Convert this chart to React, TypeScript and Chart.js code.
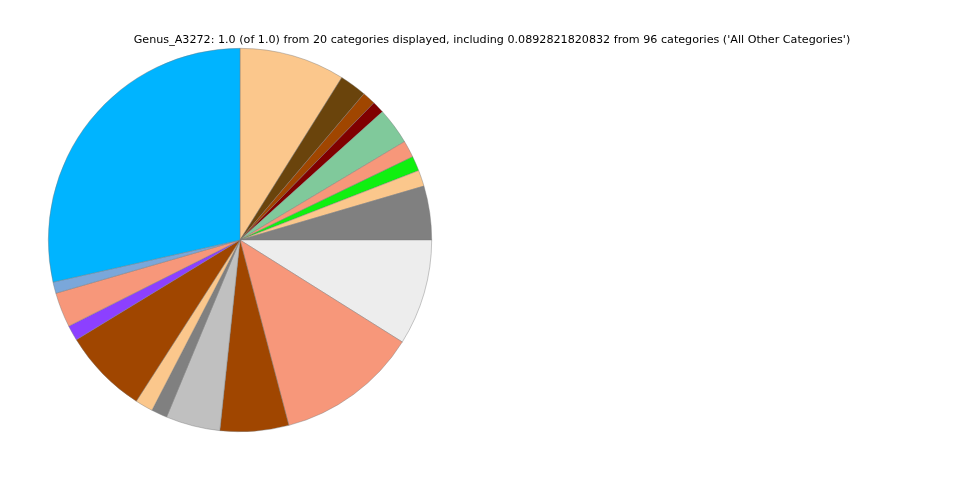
import React, { useEffect, useRef } from "react";
import { Chart, registerables } from "chart.js";

Chart.register(...registerables);

const TITLE =
  "Genus_A3272: 1.0 (of 1.0) from 20 categories displayed, including 0.0892821820832 from 96 categories ('All Other Categories')";

const categories = [
  "Category 1", "Category 2", "Category 3", "Category 4", "Category 5",
  "Category 6", "Category 7", "Category 8", "Category 9", "All Other Categories",
  "Category 11", "Category 12", "Category 13", "Category 14", "Category 15",
  "Category 16", "Category 17", "Category 18", "Category 19", "Category 20",
];

const values = [
  0.0891, 0.0228, 0.0112, 0.0102, 0.0309,
  0.0143, 0.0125, 0.0136, 0.0454, 0.0893,
  0.1197, 0.0578, 0.0458, 0.0134, 0.0150,
  0.0719, 0.0129, 0.0294, 0.0095, 0.2853,
];

const colors = [
  "#FBC78C", "#6A440C", "#A04600", "#800000", "#80C99B",
  "#F7977A", "#10F010", "#FBC78C", "#808080", "#EDEDED",
  "#F7977A", "#A04600", "#C0C0C0", "#808080", "#FBC78C",
  "#A04600", "#8C40FF", "#F7977A", "#7AA7DA", "#00B4FF",
];

const titlePlugin = {
  id: "fixedTitle",
  afterDraw(chart: any) {
    const ctx = chart.ctx;
    ctx.save();
    ctx.fillStyle = "#000";
    ctx.font = "11.15px 'DejaVu Sans'";
    ctx.textAlign = "center";
    ctx.textBaseline = "middle";
    ctx.fillText(TITLE, 492, 40.5);
    ctx.restore();
  },
};

export default function App() {
  const ref = useRef<HTMLCanvasElement | null>(null);
  useEffect(() => {
    if (!ref.current) return;
    const chart = new Chart(ref.current, {
      type: "pie",
      data: {
        labels: categories,
        datasets: [
          {
            data: values,
            backgroundColor: colors,
            borderColor: "rgba(120,120,120,0.7)",
            borderWidth: 0.6,
          },
        ],
      },
      options: {
        animation: false,
        responsive: false,
        maintainAspectRatio: false,
        layout: { padding: { left: 48, right: 528, top: 48, bottom: 48 } },
        plugins: {
          legend: { display: false },
          tooltip: { enabled: false },
          title: { display: false },
        },
      },
      plugins: [titlePlugin],
    });
    return () => chart.destroy();
  }, []);
  return (
    <div style={{ position: "absolute", left: 0, top: 0, width: 960, height: 480, background: "#fff" }}>
      <canvas ref={ref} width={960} height={480} style={{ width: 960, height: 480 }} />
    </div>
  );
}
